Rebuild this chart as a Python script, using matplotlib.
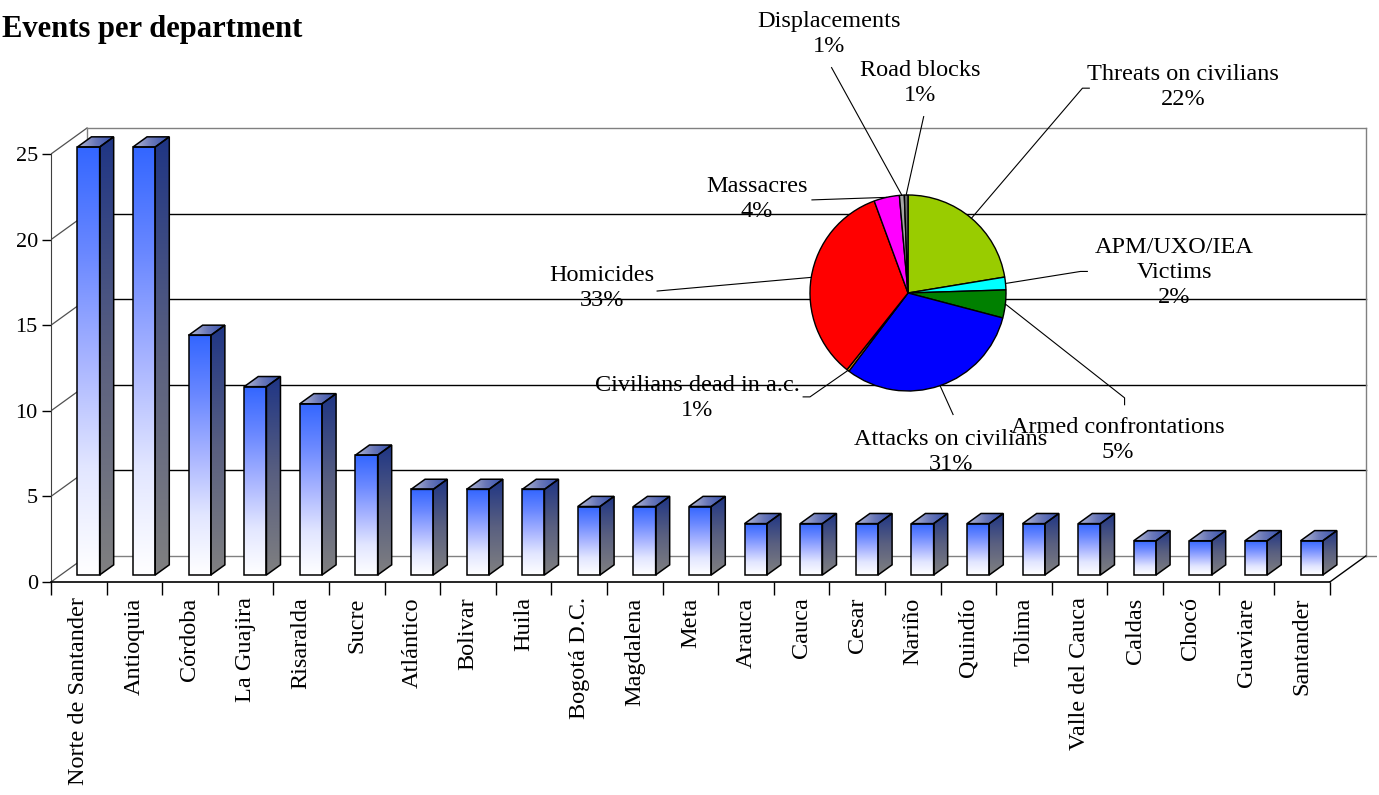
import numpy as np
import matplotlib
matplotlib.use('Agg')
import matplotlib.pyplot as plt
from matplotlib.colors import LinearSegmentedColormap
from matplotlib.patches import Polygon

plt.rcParams['font.family'] = ['Liberation Serif', 'DejaVu Serif']

# data
departments = ['Norte de Santander', 'Antioquia', 'Córdoba', 'La Guajira', 'Risaralda',
               'Sucre', 'Atlántico', 'Bolivar', 'Huila', 'Bogotá D.C.', 'Magdalena',
               'Meta', 'Arauca', 'Cauca', 'Cesar', 'Nariño', 'Quindío', 'Tolima',
               'Valle del Cauca', 'Caldas', 'Chocó', 'Guaviare', 'Santander']
events = [25, 25, 14, 11, 10, 7, 5, 5, 5, 4, 4, 4, 3, 3, 3, 3, 3, 3, 3, 2, 2, 2, 2]
y_ticks = [0, 5, 10, 15, 20, 25]

event_types = ['Threats on civilians', 'APM/UXO/IEA\nVictims', 'Armed confrontations',
               'Attacks on civilians', 'Civilians dead in a.c.', 'Homicides',
               'Massacres', 'Displacements', 'Road blocks']
type_share = [22.4, 2.1, 4.6, 31.2, 0.4, 33.7, 4.2, 0.8, 0.6]
type_pct_labels = ['22%', '2%', '5%', '31%', '1%', '33%', '4%', '1%', '1%']
type_colors = ['#99CC00', '#00FFFF', '#008000', '#0000FF', '#FF9900', '#FF0000',
               '#FF00FF', '#A6A6A6', '#6E6E6E']

# layout (pixels of the 1379x795 canvas)
W, H = 1379, 795
x0_px, y0_px = 51, 582          # front-left corner of the floor
px_cat = 55.6                   # pixels per category
px_val = 17.12                  # pixels per unit
depth = (36 / px_cat, 26 / px_val)   # depth vector in data units
f_front, f_back = 0.27, 0.66    # bar position in depth
bar_w = 0.4
x_max, y_max = 23.85, 27.0

fig = plt.figure(figsize=(W / 100, H / 100), dpi=100)
ax = fig.add_axes([x0_px / W, (H - y0_px) / H, x_max * px_cat / W, y_max * px_val / H])
ax.set_xlim(0, x_max)
ax.set_ylim(0, y_max)
ax.patch.set_alpha(0)

n = len(departments)
dx, dy = depth

# walls and gridlines
for v in y_ticks:
    c = '#808080' if v in (0, 25) else 'black'
    ax.plot([0, dx], [v, v + dy], color='#505050', lw=0.9, zorder=1)
    ax.plot([dx, n + dx], [v + dy, v + dy], color=c, lw=1.0, zorder=1)
ax.plot([dx, dx], [dy, 25 + dy], color='#808080', lw=1.0, zorder=1)
ax.plot([n + dx, n + dx], [dy, 25 + dy], color='#808080', lw=1.0, zorder=1)
ax.plot([n + dx, x_max], [dy, dy], color='#808080', lw=1.0, zorder=1)
ax.plot([n, n + dx], [0, dy], color='black', lw=1.0, zorder=1)

front_cmap = LinearSegmentedColormap.from_list(
    'front', ['#FFFFFF', '#E2E6FF', '#A8B4FF', '#6A88FF', '#3366FF'])
side_cmap = LinearSegmentedColormap.from_list('side', ['#808080', '#5A6080', '#1F3585'])
top_cmap = LinearSegmentedColormap.from_list('top', ['#B4BAD6', '#6A78B8', '#3450B0'])
grad_v = np.linspace(0, 1, 256).reshape(-1, 1)
grad_h = np.linspace(0, 1, 256).reshape(1, -1)


def face(verts, cmap, grad, z):
    verts = np.array(verts)
    poly = Polygon(verts, closed=True, facecolor='none', edgecolor='black', lw=1.1, zorder=z + 0.1)
    ax.add_patch(poly)
    ext = [verts[:, 0].min(), verts[:, 0].max(), verts[:, 1].min(), verts[:, 1].max()]
    im = ax.imshow(grad, cmap=cmap, extent=ext, origin='lower', aspect='auto',
                   interpolation='bilinear', zorder=z)
    im.set_clip_path(poly)


for i, v in enumerate(events):
    xl = i + 0.5 - bar_w / 2 + f_front * dx
    yb = f_front * dy
    ddx, ddy = (f_back - f_front) * dx, (f_back - f_front) * dy
    face([(xl, yb), (xl + bar_w, yb), (xl + bar_w, yb + v), (xl, yb + v)], front_cmap, grad_v, 3)
    face([(xl + bar_w, yb), (xl + bar_w + ddx, yb + ddy), (xl + bar_w + ddx, yb + v + ddy),
          (xl + bar_w, yb + v)], side_cmap, grad_v, 3)
    face([(xl, yb + v), (xl + bar_w, yb + v), (xl + bar_w + ddx, yb + v + ddy),
          (xl + ddx, yb + v + ddy)], top_cmap, grad_h, 3)

ax.set_xlim(0, x_max)
ax.set_ylim(0, y_max)

# axes
for s in ['top', 'right']:
    ax.spines[s].set_visible(False)
ax.spines['left'].set_bounds(0, 25)
ax.spines['bottom'].set_bounds(0, n)
ax.spines['left'].set_color('#404040')
ax.spines['bottom'].set_linewidth(1.2)
ax.set_yticks(y_ticks)
ax.set_yticklabels([str(t) for t in y_ticks], fontsize=16)
ax.tick_params(axis='y', length=6.5, width=1, pad=3)
ax.set_xticks(np.arange(n) + 0.5)
ax.set_xticklabels(departments, rotation=90, fontsize=17.5, va='top', ha='center')
ax.set_xticks(np.arange(n + 1), minor=True)
ax.tick_params(axis='x', which='major', length=0, pad=11)
ax.tick_params(axis='x', which='minor', length=9.5, width=1)

fig.text(2 / W, 1 - 37 / H, 'Events per department', fontsize=22, fontweight='bold',
         ha='left', va='baseline')

# pie
cx, cy, r = 908, 293, 98
axp = fig.add_axes([(cx - r) / W, (H - cy - r) / H, 2 * r / W, 2 * r / H])
axp.pie(type_share, colors=type_colors, startangle=90, counterclock=False,
        wedgeprops=dict(edgecolor='black', linewidth=1.0))
axp.set_xlim(-1, 1)
axp.set_ylim(-1, 1)
axp.set_aspect('equal')

# label positions and leader line ends, in pie radii
label_pos = [(2.81, 2.10), (2.72, 0.21), (2.14, -1.50), (0.44, -1.62), (-2.15, -1.07),
             (-3.12, 0.05), (-1.54, 0.96), (-0.81, 2.64), (0.12, 2.14)]
leader_end = [[(1.78, 2.09), (1.85, 2.09)], [(1.76, 0.22), (1.83, 0.22)],
              [(2.21, -1.07), (2.21, -1.14)], [(0.46, -1.24)], [(-1.0, -1.06), (-1.07, -1.06)],
              [(-2.56, 0.02)], [(-0.98, 0.95)], [(-0.78, 2.30)], [(0.16, 1.80)]]

cum = np.cumsum([0] + type_share) / sum(type_share)
for k, name in enumerate(event_types):
    mid = 90 - 360 * (cum[k] + cum[k + 1]) / 2
    px, py = np.cos(np.radians(mid)), np.sin(np.radians(mid))
    pts = [(px, py)] + leader_end[k]
    axp.plot([p[0] for p in pts], [p[1] for p in pts], color='black', lw=0.8, clip_on=False)
    lx, ly = label_pos[k]
    axp.text(lx, ly, name + '\n' + type_pct_labels[k], ha='center', va='center',
             fontsize=17.5, linespacing=1.25, clip_on=False)

fig.savefig('out.png', dpi=100)
